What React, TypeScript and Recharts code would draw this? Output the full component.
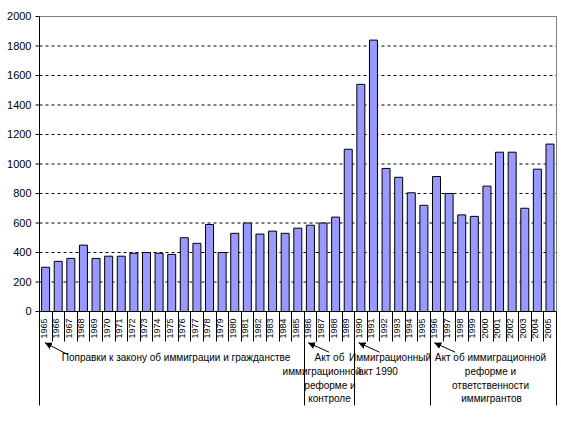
import React from "react";
import { BarChart, Bar, XAxis, YAxis, CartesianGrid } from "recharts";

const years = [
  "1965", "1966", "1967", "1968", "1969", "1970", "1971", "1972", "1973", "1974",
  "1975", "1976", "1977", "1978", "1979", "1980", "1981", "1982", "1983", "1984",
  "1985", "1986", "1987", "1988", "1989", "1990", "1991", "1992", "1993", "1994",
  "1995", "1996", "1997", "1998", "1999", "2000", "2001", "2002", "2003", "2004", "2005",
];

const admissions = [
  300, 340, 360, 450, 360, 375, 375, 395, 400, 395,
  387, 500, 462, 590, 400, 530, 600, 525, 545, 530,
  565, 585, 600, 640, 1100, 1540, 1840, 970, 910, 805,
  720, 915, 800, 655, 645, 850, 1080, 1080, 700, 965, 1135,
];

const yTicks = [0, 200, 400, 600, 800, 1000, 1200, 1400, 1600, 1800, 2000];

// legislation groups (second level of category labels)
const groupStartYears = ["1965", "1986", "1990", "1996"];
const groupLines = [
  ["Поправки к закону об иммиграции и гражданстве"],
  ["Акт об", "иммиграционной", "реформе и", "контроле"],
  ["Иммиграционный", "акт 1990"],
  ["Акт об иммиграционной", "реформе и", "ответственности", "иммигрантов"],
];
// horizontal text centres of each wrapped line (layout, not data)
const groupLineX = [[176], [329.5, 322, 330, 329.5], [390, 378], [490.5, 490.5, 490.5, 491.5]];

const data = years.map((y, i) => ({ year: y, value: admissions[i] }));

const W = 561;
const H = 428;
const L = 39.5;
const R = 556.5;
const T = 16.5;
const B = 311.5;
const band = (R - L) / years.length;
const FONT = "Arial, 'Liberation Sans', sans-serif";
const lineBaselines = [360.5, 374.5, 388.5, 401.5];

const YearTick = (props: any) => {
  const { x, payload } = props;
  return (
    <text
      transform={`translate(${x + 0.7},${328.5}) rotate(-90)`}
      textAnchor="middle"
      fontSize={9}
      fontFamily={FONT}
      fill="#000"
    >
      {payload.value}
    </text>
  );
};

const crisp = (v: number) => Math.floor(v) + 0.5;

const Overlay = () => {
  const seps: React.ReactNode[] = [];
  const groupIdx = groupStartYears.map((g) => years.indexOf(g));
  for (let i = 0; i <= years.length; i++) {
    const x = i === 0 ? L : i === years.length ? R : crisp(L + i * band);
    const long = i === 0 || i === years.length || groupIdx.includes(i);
    seps.push(
      <line key={"s" + i} x1={x} x2={x} y1={B} y2={long ? 405.5 : 341.5} stroke="#000" strokeWidth={1} />
    );
  }
  const arrows = groupIdx.map((idx, k) => {
    const cx = L + (idx + 0.5) * band;
    const tipX = k === 0 ? cx - 0.8 : cx - 2.5;
    const tipY = 342.7;
    const tailX = tipX + (k === 0 ? 23 : 21);
    const tailY = tipY + (k === 0 ? 12 : 9.5);
    return (
      <line
        key={"a" + k}
        x1={tailX}
        y1={tailY}
        x2={tipX}
        y2={tipY}
        stroke="#000"
        strokeWidth={1}
        markerEnd="url(#arrowHead)"
      />
    );
  });
  const texts = groupLines.map((lines, g) =>
    lines.map((t, j) => (
      <text
        key={`t${g}-${j}`}
        x={groupLineX[g][j]}
        y={lineBaselines[j]}
        textAnchor="middle"
        fontSize={10}
        fontFamily={FONT}
        fill="#000"
      >
        {t}
      </text>
    ))
  );
  return (
    <svg
      width={W}
      height={H}
      style={{ position: "absolute", left: 0, top: 0, pointerEvents: "none" }}
    >
      <defs>
        <marker
          id="arrowHead"
          viewBox="0 0 10 10"
          refX="10"
          refY="5"
          markerWidth="7"
          markerHeight="7"
          markerUnits="userSpaceOnUse"
          orient="auto"
        >
          <path d="M0,0 L10,5 L0,10 z" fill="#000" />
        </marker>
      </defs>
      {/* plot area border (top and right) */}
      <line x1={L} x2={R} y1={T} y2={T} stroke="#808080" strokeWidth={1} />
      <line x1={R} x2={R} y1={T} y2={B} stroke="#808080" strokeWidth={1} />
      {seps}
      {texts}
      {arrows}
    </svg>
  );
};

export default function App() {
  return (
    <div style={{ position: "absolute", left: 0, top: 0, width: W, height: H, background: "#fff" }}>
      <BarChart
        width={W}
        height={H}
        data={data}
        margin={{ top: T, right: W - R, left: 0, bottom: 0 }}
        barCategoryGap="16.67%"
      >
        <CartesianGrid
          horizontal={true}
          vertical={false}
          stroke="#000"
          strokeDasharray="3 3"
        />
        <XAxis
          dataKey="year"
          height={H - B}
          interval={0}
          tick={<YearTick />}
          tickLine={false}
          axisLine={{ stroke: "#000" }}
        />
        <YAxis
          width={L}
          domain={[0, 2000]}
          ticks={yTicks}
          interval={0}
          tickSize={4}
          tickMargin={4}
          tick={{ fontSize: 11, fontFamily: FONT, fill: "#000" }}
          tickLine={{ stroke: "#000" }}
          axisLine={{ stroke: "#000" }}
        />
        <Bar dataKey="value" fill="#9999FF" stroke="#000" strokeWidth={1} isAnimationActive={false} />
      </BarChart>
      <Overlay />
    </div>
  );
}
